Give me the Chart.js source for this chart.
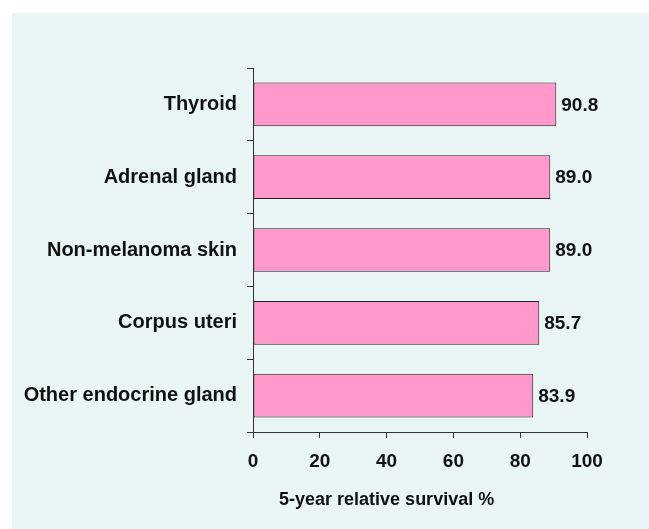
<!DOCTYPE html>
<html>
<head>
<meta charset="UTF-8">
<title>5-year relative survival</title>
<script src="https://cdn.jsdelivr.net/npm/chart.js@4/dist/chart.umd.min.js"></script>
<style>
    body, html {
        margin: 0;
        padding: 0;
        background: #fff;
    }
    .panel {
        position: absolute;
        left: 12px;
        top: 13px;
        width: 637px;
        height: 516px;
        background: #eaf6f6;
    }
</style>
</head>
<body>
<div class="panel">
    <canvas id="survivalChart"></canvas>
</div>
<script>
    // values
    const sites = ["Thyroid", "Adrenal gland", "Non-melanoma skin", "Corpus uteri", "Other endocrine gland"];
    const survival = [90.8, 89.0, 89.0, 85.7, 83.9];
    const xTicks = [0, 20, 40, 60, 80, 100];
    const xTitle = '5-year relative survival %';

    const axisColor = '#333';
    const font = 'Arial, "Liberation Sans", sans-serif';

    // value next to each bar, plus the axis title (it sits left of centre in the original)
    const extraText = {
        id: 'extraText',
        afterDraw(chart) {
            const ctx = chart.ctx;
            const meta = chart.getDatasetMeta(0);
            ctx.save();
            ctx.font = 'bold 19px ' + font;
            ctx.fillStyle = '#111';
            ctx.textAlign = 'left';
            ctx.textBaseline = 'middle';
            meta.data.forEach((bar, i) => {
                ctx.fillText(survival[i].toFixed(1), bar.x + 5, bar.y + 1);
            });
            const xs = chart.scales.x;
            ctx.font = 'bold 18px ' + font;
            ctx.textAlign = 'center';
            ctx.textBaseline = 'alphabetic';
            ctx.fillText(xTitle, xs.getPixelForValue(40), chart.chartArea.bottom + 73);
            ctx.restore();
        }
    };

    new Chart(document.getElementById('survivalChart'), {
        type: 'bar',
        data: {
            labels: sites,
            datasets: [{
                data: survival,
                backgroundColor: '#ff99cc',
                borderColor: '#222',
                borderWidth: 1,
                borderSkipped: false,
                barPercentage: 0.6,
                categoryPercentage: 1
            }]
        },
        options: {
            indexAxis: 'y',
            responsive: true,
            maintainAspectRatio: false,
            animation: false,
            layout: { padding: { top: 55, right: 62, left: 0, bottom: 0 } },
            plugins: {
                legend: { display: false },
                tooltip: { enabled: false }
            },
            scales: {
                x: {
                    min: 0,
                    max: 100,
                    afterBuildTicks(scale) {
                        scale.ticks = xTicks.map(v => ({ value: v }));
                    },
                    afterFit(scale) { scale.height = 97; },
                    grid: { drawOnChartArea: false, drawTicks: true, tickLength: 6, color: axisColor },
                    border: { color: axisColor, width: 1 },
                    ticks: {
                        color: '#111',
                        padding: 12,
                        maxRotation: 0,
                        font: { family: font, size: 19, weight: 'bold' }
                    }
                },
                y: {
                    afterFit(scale) { scale.width = 241; },
                    grid: { drawOnChartArea: false, drawTicks: true, tickLength: 6, color: axisColor, offset: true },
                    border: { color: axisColor, width: 1 },
                    ticks: {
                        color: '#111',
                        padding: 10,
                        font: { family: font, size: 20, weight: 'bold' }
                    }
                }
            }
        },
        plugins: [extraText]
    });
</script>
</body>
</html>
